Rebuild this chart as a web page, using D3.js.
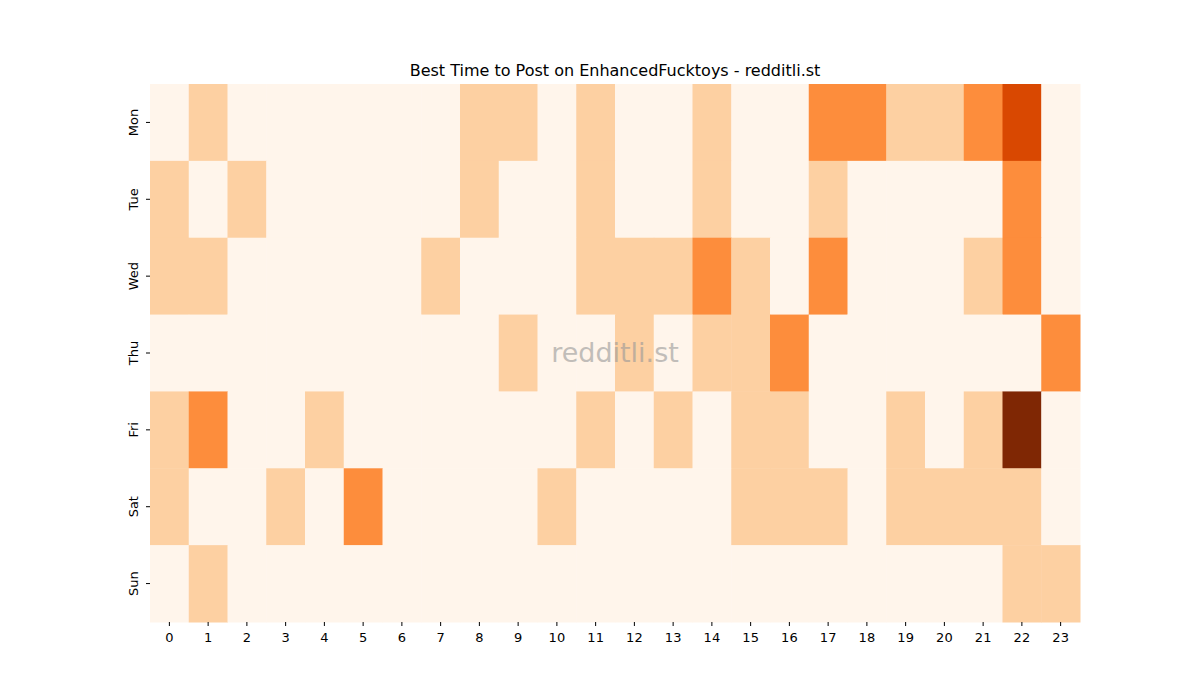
<!DOCTYPE html>
<html><head><meta charset="utf-8">
<script src="https://cdn.jsdelivr.net/npm/d3@7"></script>
<style>body{margin:0;background:#fff}text{font-family:"DejaVu Sans",sans-serif}</style>
</head><body><svg id="c" width="1200" height="700"></svg>
<script>
const days = ["Mon","Tue","Wed","Thu","Fri","Sat","Sun"];
const hours = d3.range(24).map(String);
const values = [
 [0,1,0,0,0,0,0,0,1,1,0,1,0,0,1,0,0,2,2,1,1,2,3,0],
 [1,0,1,0,0,0,0,0,1,0,0,1,0,0,1,0,0,1,0,0,0,0,2,0],
 [1,1,0,0,0,0,0,1,0,0,0,1,1,1,2,1,0,2,0,0,0,1,2,0],
 [0,0,0,0,0,0,0,0,0,1,0,0,1,0,1,1,2,0,0,0,0,0,0,2],
 [1,2,0,0,1,0,0,0,0,0,0,1,0,1,0,1,1,0,0,1,0,1,4,0],
 [1,0,0,1,0,2,0,0,0,0,1,0,0,0,0,1,1,1,0,1,1,1,1,0],
 [0,1,0,0,0,0,0,0,0,0,0,0,0,0,0,0,0,0,0,0,0,0,1,1]
];
const palette = ["#fff5eb","#fdd0a2","#fd8d3c","#d94801","#7f2704"];
const svg = d3.select("#c");
const x = d3.scaleBand().domain(hours).range([150,1080]);
const y = d3.scaleBand().domain(days).range([84,622]);
const color = d3.scaleOrdinal().domain([0,1,2,3,4]).range(palette);
const cells = [];
values.forEach((r,i)=>r.forEach((v,j)=>cells.push({d:days[i],h:hours[j],v})));
svg.selectAll("rect").data(cells).join("rect")
 .attr("x",d=>x(d.h)).attr("y",d=>y(d.d))
 .attr("width",x.bandwidth()+0.5).attr("height",y.bandwidth()+0.5)
 .attr("fill",d=>color(d.v));
const xa = svg.append("g").attr("transform","translate(0,622)").call(d3.axisBottom(x).tickSize(4));
const ya = svg.append("g").attr("transform","translate(150,0)").call(d3.axisLeft(y).tickSize(4));
[xa,ya].forEach(a=>{a.select(".domain").remove();a.selectAll("text").style("font-size","13px").attr("fill","#000");});
xa.selectAll("text").attr("dy","1em");
ya.selectAll("text").attr("transform",function(){const t=d3.select(this);return "rotate(-90,"+t.attr("x")+",0)";})
 .attr("text-anchor","middle").attr("x",-10).attr("dy","-0.2em").attr("y",0)
 .attr("transform","rotate(-90) translate(0,-4)");
ya.selectAll(".tick text").each(function(){d3.select(this).attr("x",0).attr("y",-8).attr("dy","0");});
svg.append("text").attr("x",615).attr("y",76).attr("text-anchor","middle").style("font-size","16px")
 .text("Best Time to Post on EnhancedFucktoys - redditli.st");
svg.append("text").attr("x",615).attr("y",362).attr("text-anchor","middle").style("font-size","27px")
 .attr("fill","#999").attr("opacity",0.6).text("redditli.st");
</script></body></html>
